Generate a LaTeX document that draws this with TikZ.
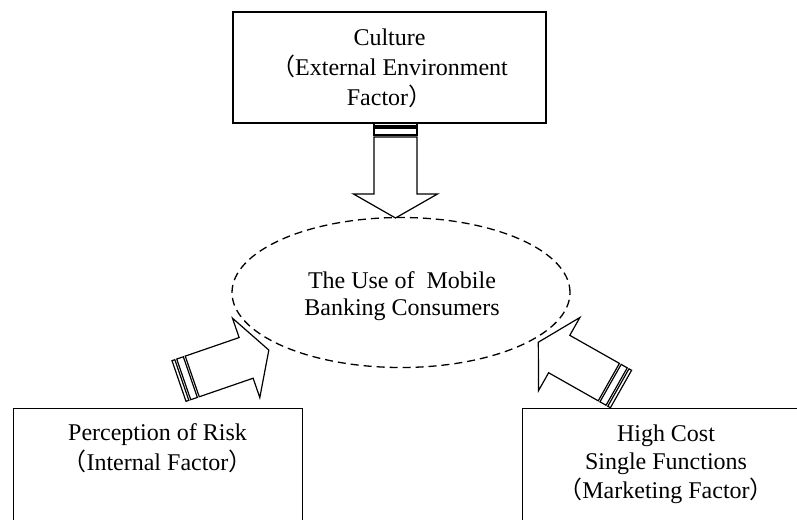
\documentclass[tikz,border=0pt]{standalone}
\usepackage{fontspec}
\setmainfont{Liberation Serif}
\newfontfamily\cjk{Noto Sans CJK SC}
\usetikzlibrary{shapes.geometric}
\begin{document}
\begin{tikzpicture}[x=1pt,y=-1pt,
  box/.style={draw, line width=1.3pt, inner sep=0pt},
  lbl/.style={align=center, inner sep=0pt},
  arrowline/.style={draw, line width=1.2pt, line join=miter, fill=white},
  stripedarrow/.pic={
    \path[arrowline] (0,-21.5) rectangle (3,21.5);
    \path[arrowline] (5,-21.5) rectangle (12,21.5);
    \path[arrowline] (14,-21.5) -- (71,-21.5) -- (71,-42) -- (95,0) -- (71,42) -- (71,21.5) -- (14,21.5) -- cycle;
  }]
\clip (0,0) rectangle (797,519);
\fill[white] (0,0) rectangle (797,519);
% boxes
\node[box, minimum width=313, minimum height=111] (culture) at (389.5,67.5) {};
\node[box, minimum width=289, minimum height=200, anchor=north west] (risk) at (13,407.5) {};
\node[box, minimum width=288, minimum height=200, anchor=north west] (cost) at (522,408) {};
% ellipse
\node[draw, ellipse, dash pattern=on 8pt off 5pt, line width=1.3pt, inner sep=0pt,
      minimum width=338, minimum height=150] (use) at (401,292.5) {};
% striped block arrows
\pic[rotate=-90] at (395.5,123) {stripedarrow};
\pic[rotate=19] at (179,381) {stripedarrow};
\pic[rotate=150.5] at (621,389) {stripedarrow};
% texts (anchor=base is the baseline of the last line)
\node[lbl, anchor=base, font=\fontsize{24}{30}\selectfont] (cultureText) at (389.5,105)
  {Culture\\{\cjk （}External Environment\\Factor{\cjk ）}};
\node[lbl, anchor=base, font=\fontsize{24}{27}\selectfont] (useText) at (402,315)
  {The Use of~ Mobile\\Banking Consumers};
\node[lbl, anchor=base, font=\fontsize{24}{30}\selectfont] (riskText) at (157.5,470)
  {Perception of Risk\\{\cjk （}Internal Factor{\cjk ）}};
\node[lbl, anchor=base, font=\fontsize{24}{28.5}\selectfont] (costText) at (666,498)
  {High Cost\\Single Functions\\{\cjk （}Marketing Factor{\cjk ）}};
\end{tikzpicture}
\end{document}
